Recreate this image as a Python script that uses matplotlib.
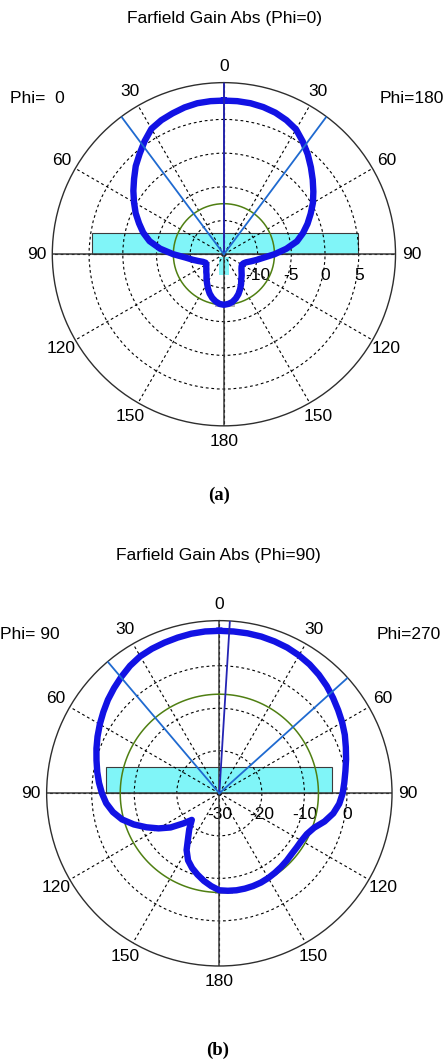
import numpy as np
import matplotlib.pyplot as plt
from matplotlib.patches import Rectangle
from matplotlib.transforms import offset_copy

plt.rcParams['font.family'] = ['Liberation Sans', 'DejaVu Sans']

# theta angles of the cut (deg), 0 = top, 180 = bottom
theta_deg = list(range(0, 181, 5))

# (a) Phi=0 / Phi=180 cut, gain in dBi
gain_a_phi180 = [7.8, 7.8, 7.75, 7.6, 7.35, 6.95, 6.4, 5.4, 4.35, 3.25,
                 2.2, 1.2, 0.25, -0.8, -1.8, -2.85, -4.0, -5.7, -7.5, -9.1,
                 -10.1, -10.9, -11.5, -11.8, -11.9, -11.8, -11.6, -11.3, -10.9, -10.5,
                 -9.9, -9.3, -8.7, -8.2, -7.8, -7.6, -7.5]
gain_a_phi0 = [7.8, 7.8, 7.75, 7.55, 7.25, 6.95, 6.5, 5.5, 4.45, 3.5,
               2.4, 1.4, 0.4, -0.55, -1.6, -2.6, -3.8, -5.5, -7.5, -9.3,
               -10.3, -11.1, -11.7, -12.0, -12.0, -11.8, -11.6, -11.3, -11.0, -10.5,
               -10.0, -9.4, -8.8, -8.3, -7.9, -7.6, -7.5]

# (b) Phi=90 / Phi=270 cut
gain_b_phi270 = [8.2, 8.2, 8.2, 8.15, 8.0, 7.8, 7.45, 7.0, 6.4, 5.7,
                 4.9, 4.1, 3.35, 2.55, 1.65, 0.85, 0.1, -0.5, -1.0, -1.7,
                 -2.8, -4.4, -6.3, -7.3, -7.7, -7.8, -7.8, -7.6, -7.4, -7.2,
                 -7.0, -6.85, -6.8, -6.8, -6.85, -7.0, -7.2]
theta_b_phi90 = list(range(0, 131, 5)) + [134] + list(range(140, 181, 5))
gain_b_phi90 = [8.2, 8.2, 8.1, 7.9, 7.7, 7.5, 7.2, 6.6, 5.8, 5.0,
                4.2, 3.3, 2.45, 1.6, 0.75, -0.1, -0.85, -1.6, -2.4, -3.3,
                -4.6, -6.3, -8.6, -11.1, -13.5, -16.0, -19.0, -21.0, -19.0, -17.2,
                -14.6, -12.6, -11.3, -10.2, -9.1, -8.1, -7.2]

angle_ticks = [0, 30, 60, 90, 120, 150, 180, 210, 240, 270, 300, 330]
angle_labels = ['0', '30', '60', '90', '120', '150', '180', '150', '120', '90', '60', '30']

rings_a = [-10, -5, 0, 5]
ring_labels_a = [-10, -5, 0, 5]
rings_b = [-20, -10, 0]
ring_labels_b = [-30, -20, -10, 0]

# main lobe direction, 3 dB angles (left, right), side lobe level
main_a, hpbw_a, sll_a = 0, (36.7, 36.7), -7.5
main_b, hpbw_b, sll_b = 3.5, (40.3, 48.0), -6.7

fig = plt.figure(figsize=(4.44, 10.62), dpi=100)


def panel(pos, rlim, rings, ring_labels, th_r, g_r, th_l, g_l,
          main_dir, hpbw, sll, body, extras):
    # antenna outline underneath the polar plot
    ax0 = fig.add_axes(pos)
    ax0.set_xlim(-1, 1)
    ax0.set_ylim(-1, 1)
    ax0.axis('off')
    x0, x1, h = body
    ax0.add_patch(Rectangle((x0, 0), x1 - x0, h, fc='#80f5f8', ec='#3c3c3c', lw=0.8))
    for (x, y, w, hh, c) in extras:
        ax0.add_patch(Rectangle((x, y), w, hh, fc=c, ec='none'))

    ax = fig.add_axes(pos, projection='polar')
    ax.set_facecolor('none')
    ax.set_theta_zero_location('N')
    ax.set_theta_direction(-1)
    rmin, rmax = rlim
    ax.set_rlim(rmin, rmax)
    ax.set_yticks(rings)
    ax.set_yticklabels([])
    ax.set_thetagrids(angle_ticks, angle_labels)
    ax.tick_params(axis='x', pad=4.5, length=0, labelsize=12.5)
    ax.grid(True, color='black', lw=0.8, ls=(0, (2.5, 2.5)))
    ax.spines['polar'].set(color='#2e2e2e', lw=1.0)

    for a in (0, 90, 180, 270):
        ax.plot([np.deg2rad(a)] * 2, [rmin, rmax], color='#3a3a3a', lw=1.1, zorder=2)

    circ = np.deg2rad(np.arange(0, 361, 2))
    ax.plot(circ, np.full(circ.size, sll), color='#4f7f12', lw=1.1, zorder=2.5)

    th = np.deg2rad(np.r_[th_r, 360 - np.array(th_l)[::-1]])
    r = np.r_[g_r, np.array(g_l)[::-1]]
    ax.plot(th, r, color='#1212e4', lw=4.6, solid_joinstyle='round', zorder=3)

    ax.plot([np.deg2rad(main_dir)] * 2, [rmin, rmax], color='#2424b4', lw=1.3, zorder=4)
    for a in (-hpbw[0], hpbw[1]):
        ax.plot([np.deg2rad(a)] * 2, [rmin, rmax], color='#1f6ad0', lw=1.3, zorder=4)

    trans = offset_copy(ax.transData, fig=fig, x=0, y=-15.5, units='points')
    for v in ring_labels:
        ax.text(np.pi / 2, v, f'{v:g}', transform=trans, ha='center', va='center',
                fontsize=12.5, zorder=1.5)
    return ax


panel([0.1178, 0.599, 0.773, 0.3232], (-15, 10.46), rings_a, ring_labels_a,
      theta_deg, gain_a_phi180, theta_deg, gain_a_phi0,
      main_a, hpbw_a, sll_a, (-0.771, 0.779, 0.126),
      [(-0.027, -0.12, 0.058, 0.106, '#80f5f8'), (-0.052, -0.309, 0.116, 0.023, '#b4b4b4')])

panel([0.105, 0.0904, 0.778, 0.3252], (-30, 10.6), rings_b, ring_labels_b,
      theta_deg, gain_b_phi270, theta_b_phi90, gain_b_phi90,
      main_b, hpbw_b, sll_b, (-0.656, 0.651, 0.154),
      [(-0.025, -0.583, 0.106, 0.023, '#b4b4b4')])

fig.text(0.505, 0.983, 'Farfield Gain Abs (Phi=0)', ha='center', va='center', fontsize=12.5)
fig.text(0.0225, 0.9077, 'Phi=  0', ha='left', va='center', fontsize=12.5)
fig.text(0.856, 0.9077, 'Phi=180', ha='left', va='center', fontsize=12.5)
fig.text(0.493, 0.534, '(a)', ha='center', va='center', fontsize=13.5,
         family='Liberation Serif', weight='bold')

fig.text(0.491, 0.4774, 'Farfield Gain Abs (Phi=90)', ha='center', va='center', fontsize=12.5)
fig.text(0.0, 0.403, 'Phi= 90', ha='left', va='center', fontsize=12.5)
fig.text(0.849, 0.403, 'Phi=270', ha='left', va='center', fontsize=12.5)
fig.text(0.491, 0.0113, '(b)', ha='center', va='center', fontsize=13.5,
         family='Liberation Serif', weight='bold')

fig.savefig('out.png', dpi=100)
